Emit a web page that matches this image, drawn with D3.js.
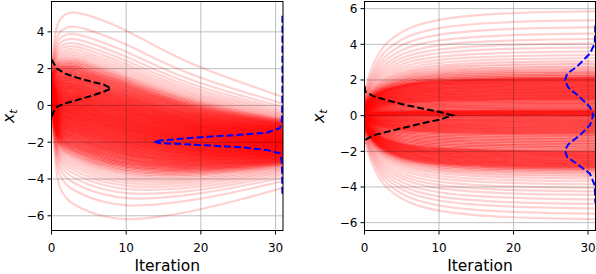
<!DOCTYPE html>
<html><head><meta charset="utf-8">
<script src="https://cdn.jsdelivr.net/npm/d3@7"></script>
<style>
html,body{margin:0;padding:0;background:#fff;}
svg{display:block;font-family:"DejaVu Sans",sans-serif;}
</style></head><body>
<svg id="chart" width="596" height="274"></svg>
<script>
// ---------- data ----------
const keyIters = [0, 0.5, 1, 2, 3, 5, 7, 10, 14, 19, 25, 31];
// left panel: centre and half-width of the bundle of trajectories at each key iteration
const leftCentre = [0.95, 0.35, 0.1, -0.05, -0.15, -0.45, -0.72, -1.07, -1.45, -1.78, -1.93, -2.01];
const leftHalfSpread = [1.51, 3.8, 4.79, 5.26, 5.47, 5.57, 5.55, 5.39, 4.84, 4.14, 3.36, 2.57];
// relative position of each sampled trajectory inside the bundle (-1 .. 1)
const sampleRanks = [-0.960,-0.818,-0.745,-0.694,-0.653,-0.620,-0.591,-0.566,-0.543,-0.522,-0.503,-0.485,-0.468,-0.453,-0.437,-0.423,-0.410,-0.396,-0.384,-0.372,-0.360,-0.349,-0.338,-0.327,-0.316,-0.306,-0.296,-0.287,-0.277,-0.268,-0.259,-0.249,-0.241,-0.232,-0.224,-0.215,-0.207,-0.199,-0.191,-0.182,-0.175,-0.167,-0.159,-0.151,-0.144,-0.136,-0.129,-0.121,-0.114,-0.107,-0.099,-0.092,-0.085,-0.078,-0.070,-0.063,-0.056,-0.049,-0.042,-0.035,-0.028,-0.021,-0.014,-0.007,
0,
0.007,0.014,0.021,0.028,0.035,0.042,0.049,0.056,0.063,0.070,0.078,0.085,0.092,0.099,0.107,0.114,0.121,0.129,0.136,0.144,0.151,0.159,0.167,0.175,0.182,0.191,0.199,0.207,0.215,0.224,0.232,0.241,0.249,0.259,0.268,0.277,0.287,0.296,0.306,0.316,0.327,0.338,0.349,0.360,0.372,0.384,0.396,0.410,0.423,0.437,0.453,0.468,0.485,0.503,0.522,0.543,0.566,0.591,0.620,0.653,0.694,0.745,0.818,0.960];
// right panel: start half-width, fraction of the way travelled, final positions
const rightStartHalfSpread = 1.45;
const rightProgress = [0, 0.17, 0.3, 0.49, 0.61, 0.75, 0.83, 0.9, 0.945, 0.975, 0.993, 1];
const rightFinal = [-5.8,-5.5,-5.2,-4.95,-4.7,-4.45,-4.25,-4.05,-3.85,-3.68,-3.52,-3.38,-3.25,-3.14,-3.05,-2.98,-2.92,-2.87,
-2.82,-2.77,-2.72,-2.67,-2.62,-2.57,-2.52,-2.47,-2.42,-2.37,-2.32,-2.27,-2.22,-2.17,-2.12,-2.07,-2.02,-1.97,
-1.87,-1.78,-1.69,-1.6,-1.51,-1.42,-1.33,-1.24,-1.15,-1.06,
-1.0,-0.94,-0.89,-0.83,-0.78,-0.72,-0.67,-0.61,-0.56,-0.5,-0.45,-0.39,-0.34,-0.28,-0.23,-0.17,-0.11,-0.06,
0,
0.03,0.06,0.09,0.12,0.15,0.18,0.21,0.24,0.27,0.3,
0.37,0.44,0.51,0.58,0.65,0.72,0.79,0.86,
0.91,0.96,1.0,1.05,1.1,1.14,1.19,1.24,1.29,1.33,1.38,1.43,1.47,1.52,1.57,1.61,1.66,1.71,1.75,1.8,1.85,1.89,1.94,1.98,2.02,2.06,2.1,2.14,
2.22,2.3,2.4,2.5,2.62,2.75,2.9,3.05,3.22,3.4,3.6,3.82,4.05,4.3,4.6,4.95,5.35,5.85];
// density curves: [iteration, x_t]
const leftStartDensity = [[0.02,2.5],[0.13,2.41],[0.72,2.0],[1.83,1.73],[3.4,1.51],[5.17,1.31],[6.95,1.14],[7.98,0.92],[6.95,0.74],[5.17,0.5],[3.4,0.29],[1.83,0.11],[0.72,-0.08],[0.27,-0.35],[0.13,-0.52],[0.02,-0.6]];
const leftEndDensity = [[30.92,4.88],[30.92,1.0],[30.88,-0.5],[30.8,-0.97],[30.57,-1.24],[28.8,-1.48],[25.2,-1.6],[19.88,-1.73],[14.53,-1.91],[13.73,-1.97],[14.53,-2.05],[19.88,-2.15],[25.2,-2.27],[28.8,-2.42],[30.57,-2.6],[30.8,-2.96],[30.88,-3.5],[30.92,-4.94]];
const rightStartDensity = [[0.02,1.65],[0.1,1.35],[1.25,1.08],[3.44,0.82],[5.68,0.58],[7.9,0.39],[10.15,0.2],[11.8,0.02],[10.15,-0.22],[7.9,-0.41],[5.68,-0.64],[3.44,-0.86],[1.21,-1.1],[0.1,-1.36],[0.02,-1.55]];
const rightEndDensity = [[30.98,5.06],[30.9,4.04],[30.25,3.48],[28.47,2.73],[27.2,2.36],[26.9,1.98],[27.35,1.57],[28.9,1.04],[30.25,0.48],[30.7,0.02],[30.25,-0.54],[28.9,-1.1],[27.35,-1.61],[26.9,-1.95],[27.2,-2.32],[28.47,-2.69],[30.25,-3.25],[30.9,-3.91],[30.98,-4.9]];
const xTicks = [0, 10, 20, 30];
const leftYTicks = [-6, -4, -2, 0, 2, 4];
const rightYTicks = [-6, -4, -2, 0, 2, 4, 6];
const xLabel = "Iteration";

// ---------- build trajectory tables ----------
const leftPaths = sampleRanks.map(r => ({r, pts: keyIters.map((t, j) => [t, leftCentre[j] + r * leftHalfSpread[j]])}));
const rightPaths = rightFinal.map((f, i) => {
  const s = sampleRanks[i] * rightStartHalfSpread;
  return {r: sampleRanks[i], pts: keyIters.map((t, j) => [t, s + (f - s) * rightProgress[j]])};
});

const svg = d3.select("#chart");
const fmt = v => (v < 0 ? "\u2212" + Math.abs(v) : String(v));
// the reference overlays far more trajectories than listed here: the dense middle is rendered stronger
const lineOpacity = d => 0.18 + 0.28 * Math.max(0, Math.min(1, (0.52 - Math.abs(d.r)) / 0.12));

function panel(cfg) {
  const x = d3.scaleLinear().domain([0, 31]).range([cfg.left, cfg.right]);
  const y = d3.scaleLinear().domain(cfg.yDomain).range([230.5, 1.5]);
  const g = svg.append("g");
  const clipId = "clip" + cfg.id;
  svg.append("clipPath").attr("id", clipId).append("rect")
    .attr("x", cfg.left).attr("y", 1.5).attr("width", cfg.right - cfg.left).attr("height", 229);
  const plot = g.append("g").attr("clip-path", `url(#${clipId})`);
  const line = d3.line().x(d => x(d[0])).y(d => y(d[1])).curve(d3.curveBasis);
  plot.append("g").selectAll("path").data(cfg.paths).join("path")
    .attr("d", d => line(d.pts)).attr("fill", "none").attr("stroke", "#ff0000")
    .attr("stroke-opacity", lineOpacity).attr("stroke-width", 2.2);
  // grid
  const grid = plot.append("g").style("mix-blend-mode", "multiply");
  grid.selectAll("line.gx").data(xTicks).join("line")
    .attr("x1", d => x(d)).attr("x2", d => x(d)).attr("y1", 1.5).attr("y2", 230.5)
    .attr("stroke", "#b0b0b0").attr("stroke-width", 0.8);
  grid.selectAll("line.gy").data(cfg.yTicks).join("line")
    .attr("y1", d => y(d)).attr("y2", d => y(d)).attr("x1", cfg.left).attr("x2", cfg.right)
    .attr("stroke", "#b0b0b0").attr("stroke-width", 0.8);
  // densities
  const dl = d3.line().x(d => x(d[0])).y(d => y(d[1]));
  plot.append("path").datum(cfg.startDensity).attr("d", dl).attr("fill", "none")
    .attr("stroke", "#000").attr("stroke-width", 2).attr("stroke-dasharray", "7,3");
  plot.append("path").datum(cfg.endDensity).attr("d", dl).attr("fill", "none")
    .attr("stroke", "#0000ff").attr("stroke-width", 2).attr("stroke-dasharray", "7,3");
  // frame
  g.append("rect").attr("x", cfg.left).attr("y", 1.5).attr("width", cfg.right - cfg.left).attr("height", 229)
    .attr("fill", "none").attr("stroke", "#000").attr("stroke-width", 1);
  // x ticks
  const xt = g.append("g").selectAll("g").data(xTicks).join("g");
  xt.append("line").attr("x1", d => x(d)).attr("x2", d => x(d)).attr("y1", 230.5).attr("y2", 234.5).attr("stroke", "#000");
  xt.append("text").attr("x", d => x(d)).attr("y", 252).attr("text-anchor", "middle")
    .attr("font-size", 12).attr("fill", "#000").text(fmt);
  // y ticks
  const yt = g.append("g").selectAll("g").data(cfg.yTicks).join("g");
  yt.append("line").attr("x1", cfg.left - 4).attr("x2", cfg.left).attr("y1", d => y(d)).attr("y2", d => y(d)).attr("stroke", "#000");
  yt.append("text").attr("x", cfg.left - 7).attr("y", d => y(d)).attr("dy", "0.36em").attr("text-anchor", "end")
    .attr("font-size", 12).attr("fill", "#000").text(fmt);
  // labels
  g.append("text").attr("x", (cfg.left + cfg.right) / 2).attr("y", 271).attr("text-anchor", "middle")
    .attr("font-size", 15.5).attr("fill", "#000").text(xLabel);
  const yl = g.append("text").attr("transform", `translate(${cfg.ylabX},116.2) rotate(-90)`)
    .attr("text-anchor", "middle").attr("font-size", 16).attr("fill", "#000");
  yl.append("tspan").attr("font-style", "italic").text("x");
  yl.append("tspan").attr("font-style", "italic").attr("font-size", 11).attr("dy", "0.3em").text("t");
}

panel({id: "L", left: 51.5, right: 283, yDomain: [-6.80, 5.65], yTicks: leftYTicks, paths: leftPaths,
  startDensity: leftStartDensity, endDensity: leftEndDensity, ylabX: 13.5});
panel({id: "R", left: 364.5, right: 595.5, yDomain: [-6.44, 6.40], yTicks: rightYTicks, paths: rightPaths,
  startDensity: rightStartDensity, endDensity: rightEndDensity, ylabX: 323.5});
</script>
</body></html>
